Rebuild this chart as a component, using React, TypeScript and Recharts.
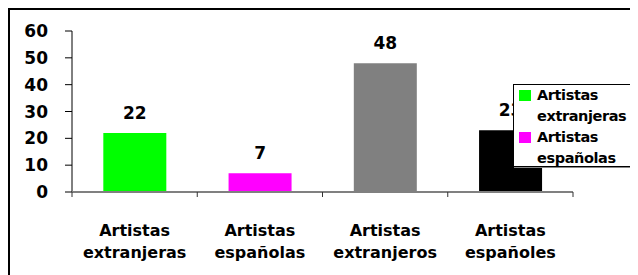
import React from "react";
import { BarChart, Bar, XAxis, YAxis, Cell, LabelList, Legend } from "recharts";

const categories = ["Artistas extranjeras", "Artistas españolas", "Artistas extranjeros", "Artistas españoles"];
const values = [22, 7, 48, 23];
const barColors = ["#00FF00", "#FF00FF", "#808080", "#000000"];
const yTicks = [0, 10, 20, 30, 40, 50, 60];
const legendLabels = ["Artistas extranjeras", "Artistas españolas"];
const legendColors = ["#00FF00", "#FF00FF"];

const data = categories.map((c, i) => ({ name: c, value: values[i], color: barColors[i] }));

const FONT = "'DejaVu Sans', sans-serif";
const CHART_W = 628;
const CHART_H = 265;
const MARGIN = { top: 21, right: 65, left: 0, bottom: 23 };
const Y_W = 62;
const PLOT_W = CHART_W - MARGIN.left - MARGIN.right - Y_W;
const HALF_BAND = PLOT_W / categories.length / 2;

const XTick = (props: any) => {
  const { x, y, payload, index } = props;
  const words = String(payload.value).split(" ");
  const last = index === categories.length - 1;
  return (
    <g>
      <line x1={x - HALF_BAND} y1={y} x2={x - HALF_BAND} y2={y + 5} stroke="#333" strokeWidth={1} />
      {last && <line x1={x + HALF_BAND} y1={y} x2={x + HALF_BAND} y2={y + 5} stroke="#333" strokeWidth={1} />}
      <text x={x} y={y} textAnchor="middle" fontFamily={FONT} fontWeight="bold" fontSize={16} fill="#000">
        <tspan x={x} dy={44}>{words[0]}</tspan>
        <tspan x={x} dy={22}>{words[1]}</tspan>
      </text>
    </g>
  );
};

const LegendBox = () => (
  <div
    style={{
      width: 125,
      height: 83,
      boxSizing: "border-box",
      border: "1px solid #000",
      boxShadow: "1px 1px 0 #888",
      background: "#fff",
      fontFamily: FONT,
      fontWeight: "bold",
      fontSize: 14.5,
      letterSpacing: "-0.4px",
      lineHeight: "21px",
      paddingLeft: 5,
      color: "#000",
      whiteSpace: "nowrap",
      textAlign: "left",
      overflow: "hidden",
    }}
  >
    {legendLabels.map((label, i) => {
      const w = label.split(" ");
      return (
        <div key={label}>
          <div style={{ display: "flex", alignItems: "center", height: 21 }}>
            <span style={{ display: "inline-block", width: 12, height: 11, background: legendColors[i], marginRight: 6 }} />
            <span>{w[0]}</span>
          </div>
          <div style={{ paddingLeft: 18, height: 21 }}>{w[1]}</div>
        </div>
      );
    })}
  </div>
);

export default function App() {
  return (
    <div>
      <style>{`html,body{overflow:hidden;}`}</style>
      <div
        style={{
          width: 630,
          height: 267,
          borderLeft: "2px solid #000",
          borderTop: "2px solid #000",
          background: "#fff",
          position: "relative",
        }}
      >
        <BarChart width={CHART_W} height={CHART_H} data={data} margin={MARGIN} barCategoryGap="25%">
          <YAxis
            width={Y_W}
            domain={[0, 60]}
            ticks={yTicks}
            interval={0}
            axisLine={{ stroke: "#000", strokeWidth: 1 }}
            tickLine={{ stroke: "#000" }}
            tickSize={7}
            tickMargin={17}
            tick={{ fontFamily: FONT, fontWeight: "bold", fontSize: 17, fill: "#000" }}
          />
          <XAxis
            dataKey="name"
            height={60}
            interval={0}
            tickLine={false}
            tickSize={0}
            tickMargin={0}
            axisLine={{ stroke: "#808080", strokeWidth: 2 }}
            tick={<XTick />}
          />
          <Legend
            layout="vertical"
            align="center"
            verticalAlign="middle"
            content={() => <LegendBox />}
            wrapperStyle={{ left: 503, top: 74, width: 125, height: 83 }}
          />
          <Bar dataKey="value" isAnimationActive={false}>
            {data.map((d) => (
              <Cell key={d.name} fill={d.color} />
            ))}
            <LabelList
              dataKey="value"
              position="top"
              offset={14}
              style={{ fontFamily: FONT, fontWeight: "bold", fontSize: 17, fill: "#000" }}
            />
          </Bar>
        </BarChart>
      </div>
    </div>
  );
}
